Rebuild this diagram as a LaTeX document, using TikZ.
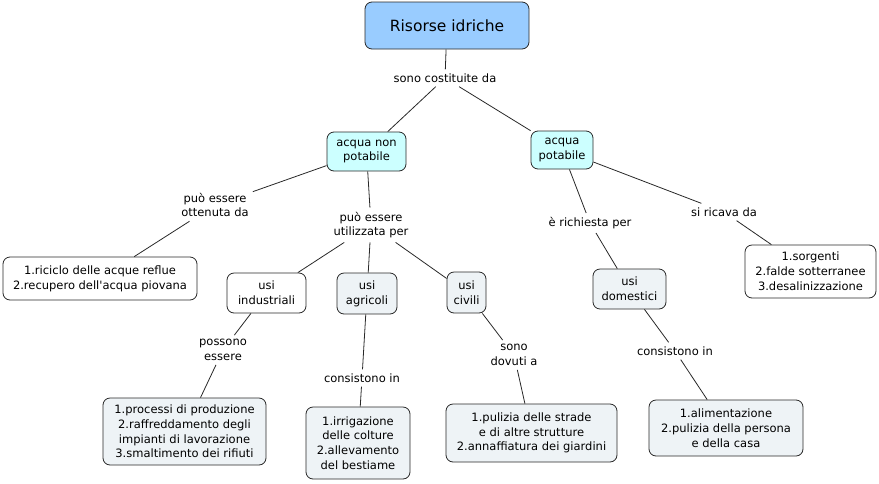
\documentclass[tikz,border=0pt]{standalone}
\usepackage{fontspec}
\setmainfont{DejaVu Sans}
\usepackage{tikz}
\usetikzlibrary{positioning}
\definecolor{titlecolor}{RGB}{153, 204, 255}
\definecolor{watercolor}{RGB}{204, 255, 255}
\definecolor{usecolor}{RGB}{238, 243, 246}
\definecolor{linkgray}{RGB}{40, 40, 40}

\begin{document}
\begin{tikzpicture}[
    x=1pt, y=-1pt,
    concept/.style={draw=linkgray, line width=0.8pt, rounded corners=7pt, align=center, inner sep=2pt, font=\fontsize{11.5}{14.8}\selectfont},
    root/.style={concept, fill=titlecolor, font=\fontsize{15.5}{18}\selectfont},
    water/.style={concept, fill=watercolor},
    usage/.style={concept, fill=usecolor},
    plain/.style={concept, fill=white},
    phrase/.style={align=center, inner sep=4pt, font=\fontsize{11.5}{14.8}\selectfont},
    link/.style={linkgray, line width=0.8pt}
]
    \useasboundingbox (0,0) rectangle (879,483);

    % Nodes - top
    \node[root, minimum width=164, minimum height=47] (risorse) at (447,25.5) {Risorse idriche};
    \node[phrase] (costituite) at (445,78) {sono costituite da};
    \node[water, minimum width=79, minimum height=39] (nonpot) at (366.5,151.5) {acqua non\\potabile};
    \node[water, minimum width=62, minimum height=38] (pot) at (562,150) {acqua\\potabile};

    % Nodes - acqua non potabile
    \node[phrase] (ottenuta) at (215,205) {può essere\\ottenuta da};
    \node[plain, minimum width=194, minimum height=43] (riciclo) at (100,278.5) {1.riciclo delle acque reflue\\2.recupero dell\textquotesingle acqua piovana};
    \node[phrase] (utilizzata) at (371,225) {può essere\\utilizzata per};
    \node[plain, minimum width=79, minimum height=40] (industriali) at (266.5,293) {usi\\industriali};
    \node[usage, minimum width=60, minimum height=41] (agricoli) at (367,293.5) {usi\\agricoli};
    \node[usage, minimum width=39, minimum height=41] (civili) at (466.5,292.5) {usi\\civili};

    % Nodes - bottom row
    \node[phrase] (possono) at (223,350) {possono\\essere};
    \node[usage, minimum width=163, minimum height=67] (processi) at (184.5,431.5) {1.processi di produzione\\2.raffreddamento degli\\impianti di lavorazione\\3.smaltimento dei rifiuti};
    \node[phrase] (consistonoA) at (362,378) {consistono in};
    \node[usage, minimum width=104, minimum height=72] (irrigazione) at (358,443) {1.irrigazione\\delle colture\\2.allevamento\\del bestiame};
    \node[phrase] (dovuti) at (514,355) {sono\\dovuti a};
    \node[usage, minimum width=171, minimum height=58] (strade) at (531.5,433) {1.pulizia delle strade\\e di altre strutture\\2.annaffiatura dei giardini};

    % Nodes - acqua potabile
    \node[phrase] (richiesta) at (590,223) {è richiesta per};
    \node[usage, minimum width=73, minimum height=40] (domestici) at (629.5,289) {usi\\domestici};
    \node[phrase] (ricava) at (724,212) {si ricava da};
    \node[plain, minimum width=131, minimum height=53] (sorgenti) at (810.5,271.5) {1.sorgenti\\2.falde sotterranee\\3.desalinizzazione};
    \node[phrase] (consistonoB) at (675,351) {consistono in};
    \node[usage, minimum width=154, minimum height=56] (alimentazione) at (726,428) {1.alimentazione\\2.pulizia della persona\\e della casa};

    % Links
    \draw[link] (risorse) -- (costituite);
    \draw[link] (costituite) -- (nonpot);
    \draw[link] (costituite) -- (pot);
    \draw[link] (nonpot) -- (ottenuta);
    \draw[link] (ottenuta) -- (riciclo);
    \draw[link] (nonpot) -- (utilizzata);
    \draw[link] (utilizzata) -- (industriali);
    \draw[link] (utilizzata) -- (agricoli);
    \draw[link] (utilizzata) -- (civili);
    \draw[link] (industriali) -- (possono);
    \draw[link] (possono) -- (processi);
    \draw[link] (agricoli) -- (consistonoA);
    \draw[link] (consistonoA) -- (irrigazione);
    \draw[link] (civili) -- (dovuti);
    \draw[link] (dovuti) -- (strade);
    \draw[link] (pot) -- (richiesta);
    \draw[link] (richiesta) -- (domestici);
    \draw[link] (pot) -- (ricava);
    \draw[link] (ricava) -- (sorgenti);
    \draw[link] (domestici) -- (consistonoB);
    \draw[link] (consistonoB) -- (alimentazione);
\end{tikzpicture}
\end{document}
